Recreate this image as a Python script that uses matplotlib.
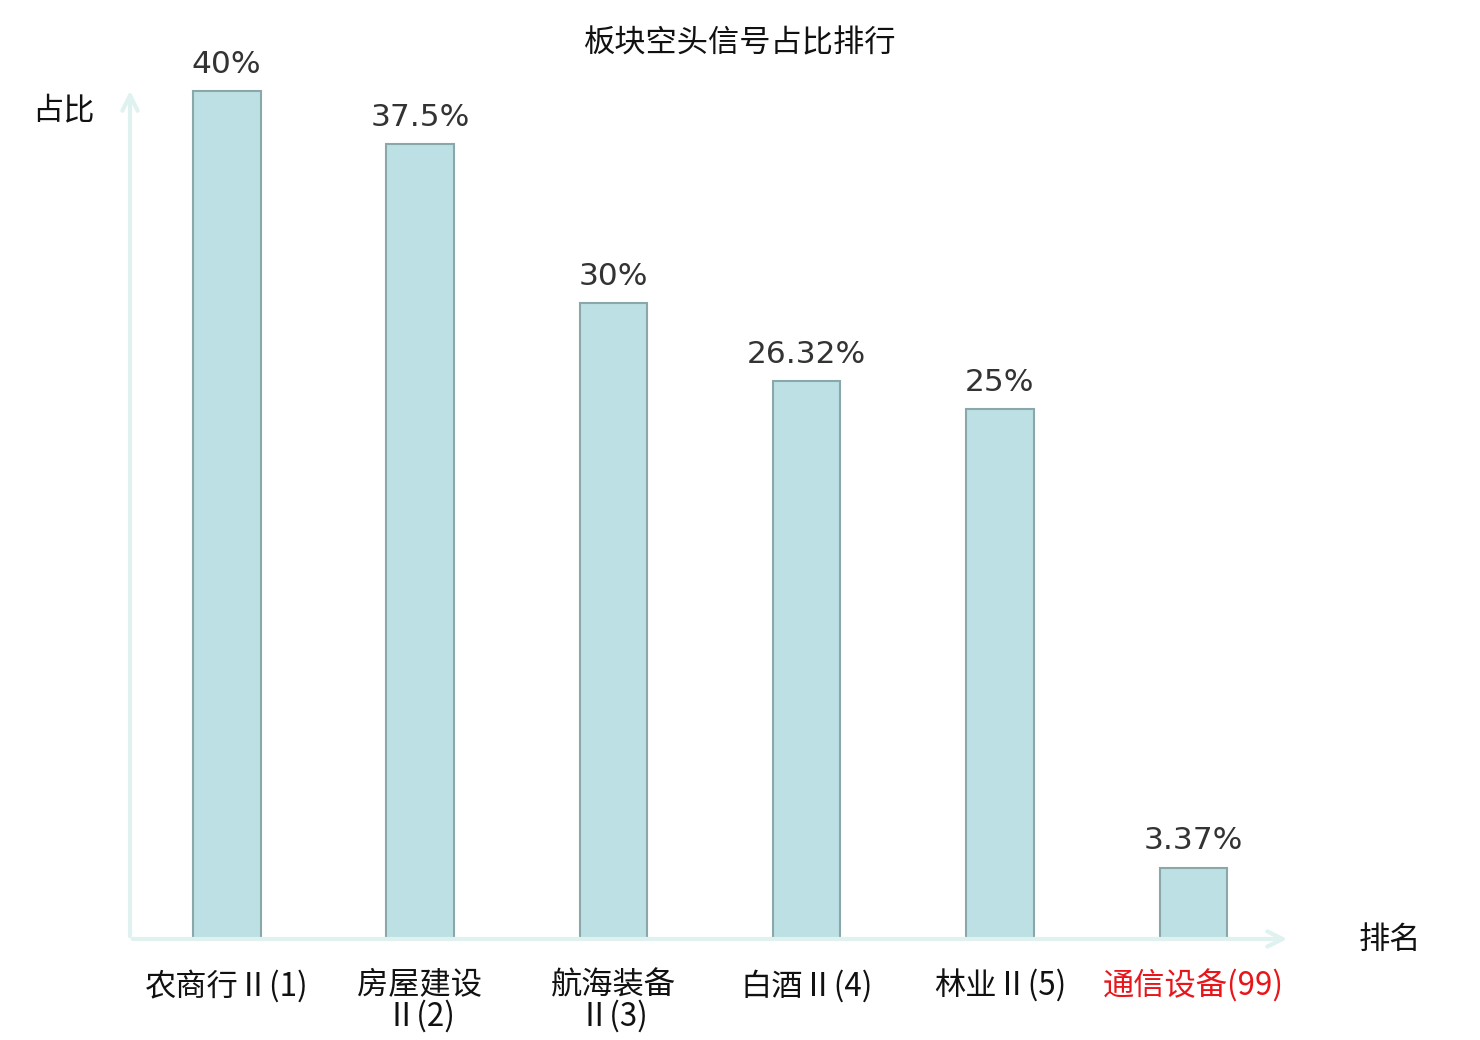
import matplotlib
matplotlib.use("Agg")
import matplotlib.pyplot as plt

plt.rcParams['font.family'] = ['Noto Sans CJK SC', 'DejaVu Sans']

categories = ["农商行Ⅱ(1)", "房屋建设\nⅡ(2)", "航海装备\nⅡ(3)", "白酒Ⅱ(4)", "林业Ⅱ(5)", "通信设备(99)"]
values = [40, 37.5, 30, 26.32, 25, 3.37]
value_labels = ["40%", "37.5%", "30%", "26.32%", "25%", "3.37%"]
label_colors = ["#111111", "#111111", "#111111", "#111111", "#111111", "#e8161b"]

FS = 22.5

fig = plt.figure(figsize=(14.8, 10.4), dpi=100)
ax = fig.add_axes([130/1480, 101/1040, 1160/1480, 851/1040])

x = list(range(len(categories)))
ax.bar(x, values, width=0.35, color="#bce0e3", edgecolor="#8aa8aa", linewidth=1.5, zorder=3)

for xi, v, lab in zip(x, values, value_labels):
    ax.annotate(lab, (xi, v), xytext=(0, 9), textcoords="offset points",
                ha="center", va="bottom", fontsize=FS, color="#333333",
                family="DejaVu Sans")

ax.set_xlim(-0.5, 5.5)
ax.set_ylim(0, 40.15)
for s in ax.spines.values():
    s.set_visible(False)
ax.set_yticks([])
ax.set_xticks(x)
ax.set_xticklabels(categories, fontsize=FS, linespacing=0.95)
for t, c in zip(ax.get_xticklabels(), label_colors):
    t.set_color(c)
ax.tick_params(axis="x", length=0, pad=22)

axis_color = "#dff2f0"
ax.annotate("", xy=(1.0, 0), xytext=(0, 0), xycoords="axes fraction",
            arrowprops=dict(arrowstyle="->,head_length=1.1,head_width=0.55", color=axis_color, lw=3),
            annotation_clip=False)
ax.annotate("", xy=(0, 1.0), xytext=(0, 0), xycoords="axes fraction",
            arrowprops=dict(arrowstyle="->,head_length=1.1,head_width=0.55", color=axis_color, lw=3),
            annotation_clip=False)

fig.text(1390/1480, 1 - 940/1040, "排名", fontsize=FS, ha="center", va="center", color="#111111")
fig.text(63/1480, 1 - 110/1040, "占比", fontsize=FS, ha="center", va="center", color="#111111")
fig.text(740/1480, 1 - 43/1040, "板块空头信号占比排行", fontsize=FS, ha="center", va="center", color="#111111")

fig.savefig("out.png", dpi=100)
